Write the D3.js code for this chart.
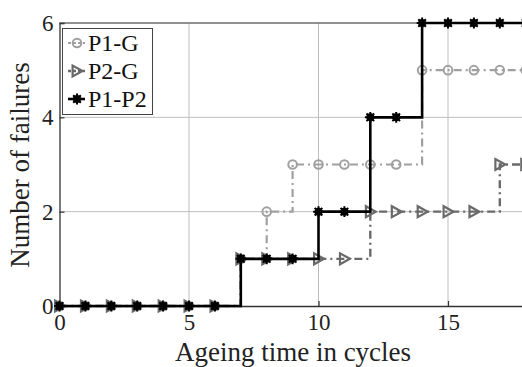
<!DOCTYPE html>
<html>
<head>
<meta charset="utf-8">
<script src="https://cdn.jsdelivr.net/npm/d3@7"></script>
<style>
  html, body { margin: 0; padding: 0; background: #fff; }
  svg text { font-family: "Liberation Serif", "DejaVu Serif", serif !important; }
</style>
</head>
<body>
<div id="chart"></div>
<script>
// ageing time in cycles
const cycles = [0, 1, 2, 3, 4, 5, 6, 7, 8, 9, 10, 11, 12, 13, 14, 15, 16, 17, 18];
const p1g  = [0, 0, 0, 0, 0, 0, 0, 1, 2, 3, 3, 3, 3, 3, 5, 5, 5, 5, 5];
const p2g  = [0, 0, 0, 0, 0, 0, 0, 1, 1, 1, 1, 1, 2, 2, 2, 2, 2, 3, 3];
const p1p2 = [0, 0, 0, 0, 0, 0, 0, 1, 1, 1, 2, 2, 4, 4, 6, 6, 6, 6, 6];
const xTicks = [0, 5, 10, 15];
const yTicks = [0, 2, 4, 6];
const seriesNames = ['P1-G', 'P2-G', 'P1-P2'];

const width = 522, height = 367;
const svg = d3.select('#chart').append('svg')
  .attr('width', width)
  .attr('height', height);

const x = d3.scaleLinear().domain([0, 18]).range([59.5, 525.7]);
const y = d3.scaleLinear().domain([0, 6]).range([306, 23]);

// grid
svg.append('g')
  .selectAll('line')
  .data(xTicks.slice(1))
  .join('line')
  .attr('x1', d => x(d)).attr('x2', d => x(d))
  .attr('y1', y(0)).attr('y2', y(6))
  .attr('stroke', '#bdbdbd').attr('stroke-width', 1);
svg.append('g')
  .selectAll('line')
  .data(yTicks.slice(1))
  .join('line')
  .attr('x1', x(0)).attr('x2', width)
  .attr('y1', d => y(d)).attr('y2', d => y(d))
  .attr('stroke', '#bdbdbd').attr('stroke-width', 1);

// axes
const xAxis = svg.append('g')
  .attr('transform', `translate(0,${y(0)})`)
  .call(d3.axisBottom(x).tickValues(xTicks).tickSize(-5).tickPadding(8).tickFormat(d3.format('d')));
const yAxis = svg.append('g')
  .attr('transform', `translate(${x(0)},0)`)
  .call(d3.axisLeft(y).tickValues(yTicks).tickSize(-5).tickPadding(6).tickFormat(d3.format('d')));
[xAxis, yAxis].forEach(a => {
  a.attr('font-size', 23).attr('font-family', null);
  a.select('.domain').attr('stroke', '#333').attr('stroke-width', 1.3);
  a.selectAll('.tick line').attr('stroke', '#333').attr('stroke-width', 1.2);
  a.selectAll('.tick text').attr('fill', '#222');
});
// top frame line
svg.append('line')
  .attr('x1', x(0)).attr('x2', width)
  .attr('y1', y(6)).attr('y2', y(6))
  .attr('stroke', '#444').attr('stroke-width', 1.2);

// labels
svg.append('text')
  .attr('x', 293).attr('y', 361)
  .attr('text-anchor', 'middle')
  .attr('font-size', 27)
  .attr('fill', '#222')
  .text('Ageing time in cycles');
svg.append('text')
  .attr('transform', 'translate(29,165) rotate(-90)')
  .attr('text-anchor', 'middle')
  .attr('font-size', 27)
  .attr('fill', '#222')
  .text('Number of failures');

// marker painters
function circleMark(g, cx, cy, color) {
  g.append('circle').attr('cx', cx).attr('cy', cy).attr('r', 4.3)
    .attr('fill', 'none').attr('stroke', color).attr('stroke-width', 2);
}
function triMark(g, cx, cy, color) {
  const s = 5.5;
  g.append('path')
    .attr('d', `M${cx + s},${cy} L${cx - s * 0.8},${cy - s} L${cx - s * 0.8},${cy + s} Z`)
    .attr('fill', 'none').attr('stroke', color).attr('stroke-width', 2.2)
    .attr('stroke-linejoin', 'miter');
}
function starMark(g, cx, cy, color) {
  g.append('circle').attr('cx', cx).attr('cy', cy).attr('r', 4).attr('fill', color);
  const r = 5.4;
  const p = [];
  for (let k = 0; k < 4; k++) {
    const a = k * Math.PI / 4;
    p.push(`M${cx - r * Math.cos(a)},${cy - r * Math.sin(a)} L${cx + r * Math.cos(a)},${cy + r * Math.sin(a)}`);
  }
  g.append('path').attr('d', p.join(' ')).attr('stroke', color).attr('stroke-width', 2);
}

const series = [
  { name: seriesNames[0], values: p1g,  color: '#a0a0a0', dash: '8,4,2,4', width: 2.2, mark: circleMark },
  { name: seriesNames[1], values: p2g,  color: '#6a6a6a', dash: '8,4,2,4', width: 2.4, mark: triMark },
  { name: seriesNames[2], values: p1p2, color: '#000000', dash: null,      width: 2.6, mark: starMark }
];

const stairs = d3.line()
  .x(d => x(d[0]))
  .y(d => y(d[1]))
  .curve(d3.curveStepAfter);

series.forEach(s => {
  const pts = cycles.map((c, i) => [c, s.values[i]]);
  svg.append('path')
    .datum(pts)
    .attr('d', stairs)
    .attr('fill', 'none')
    .attr('stroke', s.color)
    .attr('stroke-width', s.width)
    .attr('stroke-dasharray', s.dash);
  const g = svg.append('g');
  pts.forEach(p => s.mark(g, x(p[0]), y(p[1]), s.color));
});

// legend
const lg = svg.append('g');
lg.append('rect')
  .attr('x', 62.5).attr('y', 28.5).attr('width', 90).attr('height', 86)
  .attr('fill', '#fff').attr('stroke', '#444').attr('stroke-width', 1);
series.forEach((s, i) => {
  const cy = 43 + i * 28;
  lg.append('line')
    .attr('x1', 68).attr('x2', 85).attr('y1', cy).attr('y2', cy)
    .attr('stroke', s.color).attr('stroke-width', s.width)
    .attr('stroke-dasharray', s.dash ? '3,2' : null);
  const mg = lg.append('g');
  s.mark(mg, 77, cy, s.color);
  lg.append('text')
    .attr('x', 88).attr('y', cy + 8)
    .attr('font-size', 24)
    .attr('fill', '#111')
    .text(s.name);
});
</script>
</body>
</html>
